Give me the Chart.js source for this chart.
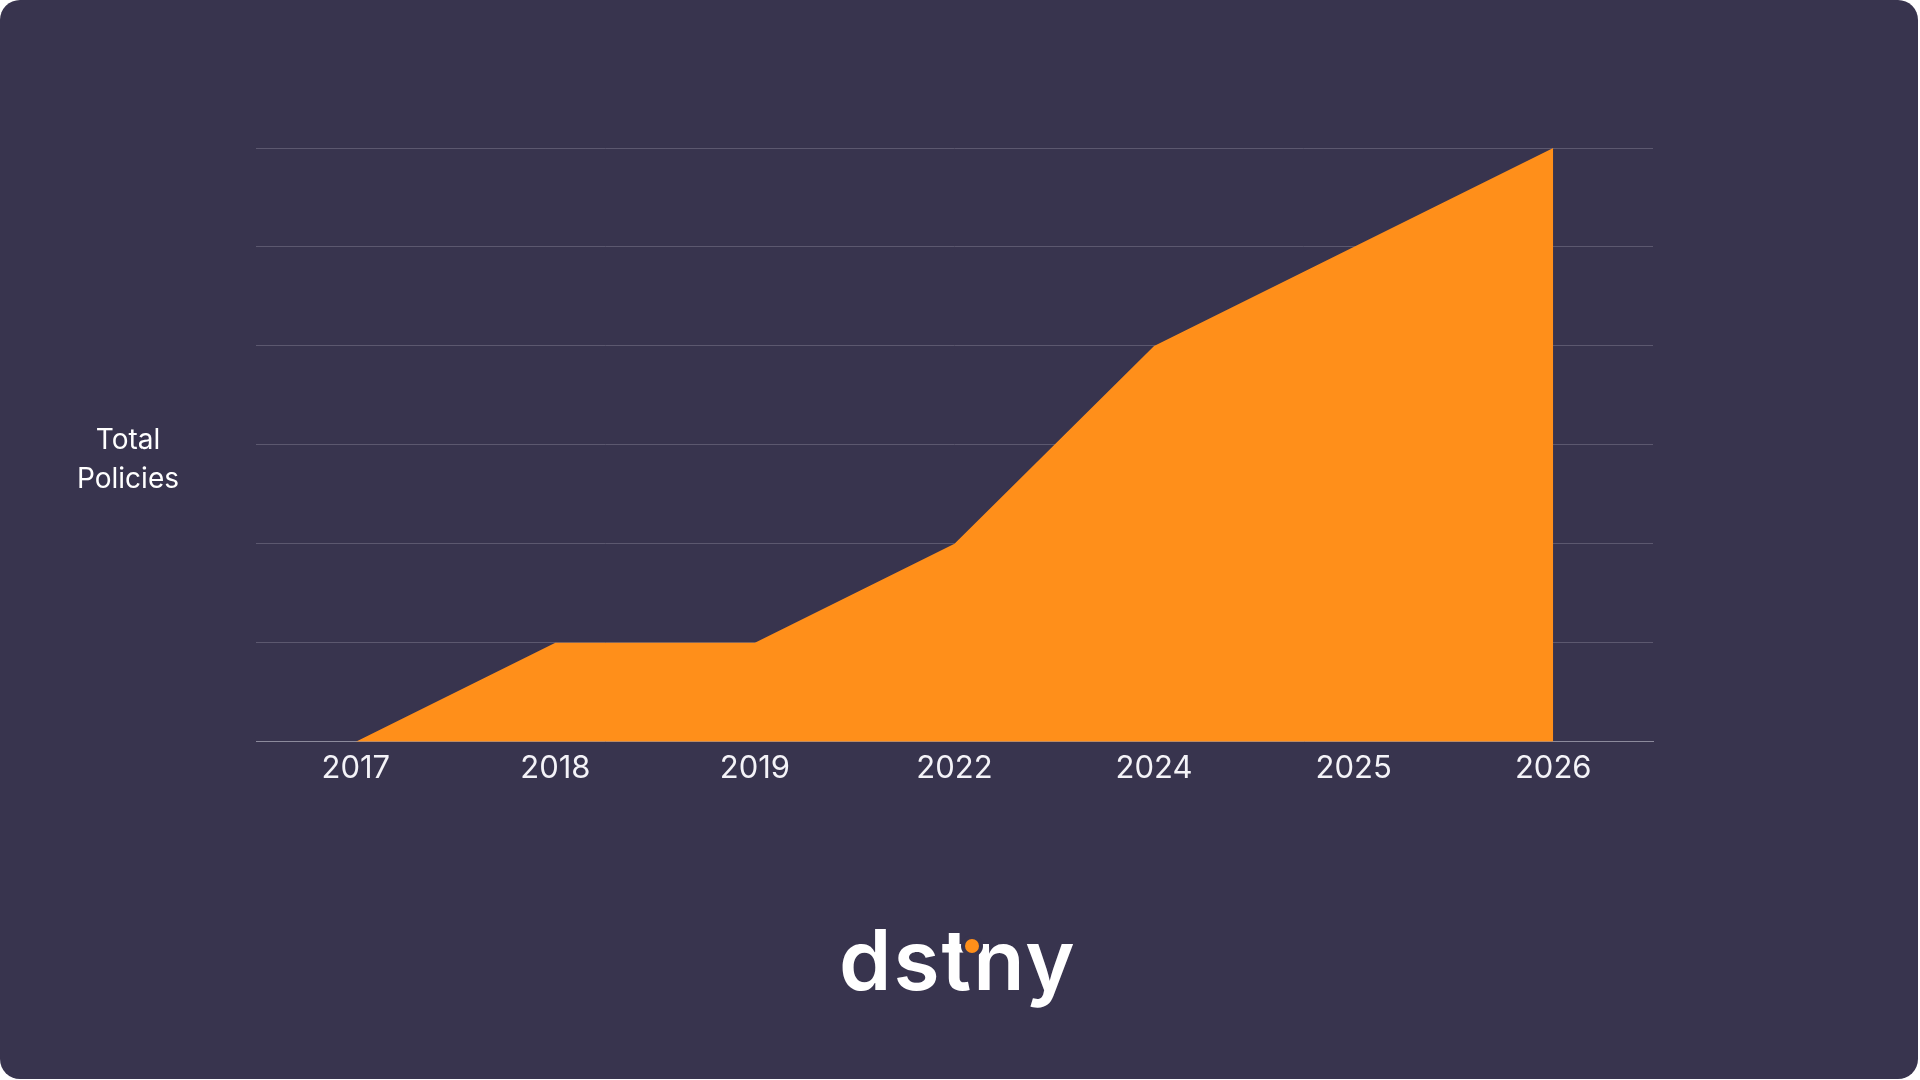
<!DOCTYPE html>
<html>
<head>
<meta charset="utf-8">
<script src="https://cdn.jsdelivr.net/npm/chart.js@4/dist/chart.umd.min.js"></script>
<style>
  html, body { margin: 0; padding: 0; background: #ffffff; width: 1920px; height: 1080px; overflow: hidden; }
  #card { position: absolute; left: 0; top: 0; width: 1918px; height: 1079px; background: #38344e; border-radius: 20px; overflow: hidden; }
  #chartWrap { position: absolute; left: 0; top: 0; width: 1918px; height: 1079px; }
  #ylabel { position: absolute; left: 58px; top: 420px; width: 140px; text-align: center; color: #ffffff;
            font-family: Inter, "Noto Sans", sans-serif; font-size: 28px; line-height: 39px; font-weight: 400; }
  #logo { position: absolute; left: 839px; top: 918px; color: #ffffff; font-family: Inter, "Noto Sans", sans-serif;
          font-weight: 600; font-size: 84px; letter-spacing: 2px; line-height: 1; white-space: nowrap; }
  #dot { position: absolute; left: 965px; top: 939px; width: 14px; height: 14px; border-radius: 50%; background: #ff8f1a;
         box-shadow: 0 0 0 4px #38344e; }
</style>
</head>
<body>
<div id="card">
  <div id="chartWrap"><canvas id="c"></canvas></div>
  <div id="ylabel">Total<br>Policies</div>
  <div id="logo">dstny</div>
  <div id="dot"></div>
</div>
<script>
const categories = ['2017', '2018', '2019', '2022', '2024', '2025', '2026'];
const totalPolicies = [0, 1, 1, 2, 4, 5, 6];
const yTicks = [0, 1, 2, 3, 4, 5, 6];

const ctx = document.getElementById('c');
new Chart(ctx, {
  type: 'line',
  data: {
    labels: categories,
    datasets: [{
      label: 'Total Policies',
      data: totalPolicies,
      fill: 'origin',
      backgroundColor: '#ff8f1a',
      borderColor: '#ff8f1a',
      borderWidth: 0,
      pointRadius: 0,
      tension: 0
    }]
  },
  options: {
    responsive: true,
    maintainAspectRatio: false,
    animation: false,
    layout: { padding: { left: 256, right: 265, top: 148, bottom: 284 } },
    plugins: { legend: { display: false }, tooltip: { enabled: false } },
    scales: {
      x: {
        offset: true,
        grid: { display: false, drawTicks: false },
        border: { display: true, color: '#8c8a9c', width: 1 },
        ticks: {
          color: '#f4f3f8',
          padding: 8,
          font: { family: 'Inter', size: 31, weight: '400' }
        }
      },
      y: {
        min: yTicks[0],
        max: yTicks[yTicks.length - 1],
        ticks: { display: false, stepSize: 1 },
        grid: { color: '#5c586f', lineWidth: 1, drawTicks: false },
        border: { display: false }
      }
    }
  }
});
</script>
</body>
</html>
